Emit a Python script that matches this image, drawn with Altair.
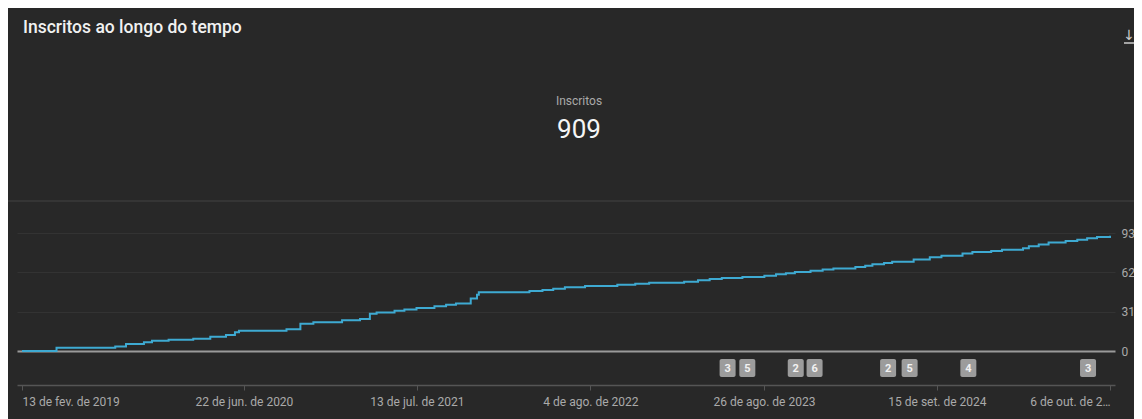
import altair as alt
import pandas as pd

# ---- data ----
dates = ["2019-02-13","2019-05-01","2019-09-09","2019-10-03","2019-11-12","2019-11-30",
         "2020-01-06","2020-03-01","2020-04-08","2020-05-13","2020-06-02","2020-06-11",
         "2020-09-25","2020-10-26","2020-11-24","2021-01-27","2021-03-08","2021-03-30",
         "2021-04-14","2021-05-24","2021-06-15","2021-07-12","2021-08-21","2021-09-16",
         "2021-10-08","2021-11-10","2021-11-24","2021-11-28","2022-03-21","2022-04-19",
         "2022-05-13","2022-06-08","2022-07-23","2022-10-03","2022-11-12","2022-12-13",
         "2023-03-01","2023-04-01","2023-04-27","2023-05-24","2023-07-09","2023-08-27",
         "2023-09-22","2023-10-14","2023-11-03","2023-12-08","2024-01-04","2024-01-28",
         "2024-03-17","2024-04-08","2024-04-24","2024-05-20","2024-06-07","2024-07-25",
         "2024-08-30","2024-09-25","2024-11-11","2024-12-03","2025-01-14","2025-02-07",
         "2025-03-26","2025-04-08","2025-04-30","2025-05-22","2025-06-29","2025-07-25",
         "2025-08-16","2025-09-07","2025-10-06"]
subs = [0,25,36,55,68,81,
        89,97,113,126,147,160,
        171,215,226,242,252,294,
        304,317,328,339,352,365,
        375,414,443,464,472,480,
        491,502,512,522,530,538,
        546,557,567,575,583,593,
        604,612,622,633,643,651,
        662,672,683,693,704,722,
        738,751,769,780,788,798,
        809,825,840,856,867,877,
        888,898,909]

marker_dates = ["2023-06-06","2023-07-20","2023-11-05","2023-12-17",
                "2024-05-29","2024-07-16","2024-11-24","2025-08-18"]
marker_counts = ["3","5","2","6","2","5","4","3"]

y_ticks = [0, 310, 620, 930]
x_ticks = [(2019, 2, 13), (2020, 6, 22), (2021, 7, 13), (2022, 8, 4),
           (2023, 8, 26), (2024, 9, 15), (2025, 10, 6)]
months_pt = ["jan.","fev.","mar.","abr.","mai.","jun.","jul.","ago.","set.","out.","nov.","dez."]

title_text = "Inscritos ao longo do tempo"
metric_label = "Inscritos"
metric_value = "909"

assert len(dates) == len(subs)

df = pd.DataFrame({"date": dates, "subs": subs})
mk = pd.DataFrame({"date": marker_dates, "n": marker_counts})

BG = "#282828"
LABEL = "#aaaaaa"
FONT = "Roboto"

def dt(t):
    return alt.DateTime(year=t[0], month=t[1], date=t[2], utc=True)

arr = "[" + ",".join("'" + m + "'" for m in months_pt) + "]"
full = ("utcdate(datum.value) + ' de ' + " + arr +
        "[utcmonth(datum.value)] + ' de ' + utcyear(datum.value)")
label_expr = ("utcyear(datum.value) >= 2025 ? substring(" + full + ", 0, 14) + '…' : " + full)

first_year = x_ticks[0][0]
last_year = x_ticks[-1][0]
label_align = {
    "condition": [
        {"test": "utcyear(datum.value) == %d" % first_year, "value": "left"},
        {"test": "utcyear(datum.value) == %d" % last_year, "value": "right"},
    ],
    "value": "center",
}

xscale = alt.Scale(type="utc", domain=[dt(x_ticks[0]), dt(x_ticks[-1])])

line = alt.Chart(df).mark_line(
    interpolate="step-after", color="#3eaad2", strokeWidth=2
).encode(
    x=alt.X("date:T", scale=xscale,
            axis=alt.Axis(values=[dt(t) for t in x_ticks], labelExpr=label_expr,
                          labelAlign=label_align, offset=34, grid=False,
                          domainColor="#555555", domainWidth=1.5,
                          tickColor="#555555", tickSize=5,
                          labelColor=LABEL, labelFont=FONT, labelFontSize=12,
                          labelPadding=6, title=None)),
    y=alt.Y("subs:Q", scale=alt.Scale(domain=[0, 930], nice=False, zero=True),
            axis=alt.Axis(orient="right", values=y_ticks, ticks=False, domain=False,
                          labelColor=LABEL, labelFont=FONT, labelFontSize=12,
                          labelPadding=6, labelBaseline="middle",
                          gridColor={"condition": {"test": "datum.value === 0", "value": "#9a9a9a"},
                                     "value": "#333333"},
                          gridWidth={"condition": {"test": "datum.value === 0", "value": 2},
                                     "value": 1},
                          title=None)),
)

boxes = alt.Chart(mk).mark_bar(width=16, color="#9c9c9c", cornerRadius=2).encode(
    x=alt.X("date:T", scale=xscale),
    y=alt.value(126), y2=alt.value(144),
)
box_text = alt.Chart(mk).mark_text(
    color="#f2f2f2", font=FONT, fontSize=11, fontWeight="bold", baseline="middle"
).encode(
    x=alt.X("date:T", scale=xscale),
    y=alt.value(135.5),
    text="n:N",
)

one = alt.Data(values=[{"k": 1}])

title = alt.Chart(one).mark_text(
    text=title_text, color="#f1f1f1", font=FONT, fontSize=17.5, fontWeight=500,
    align="left", baseline="alphabetic"
).encode(x=alt.value(6), y=alt.value(-200))

mlabel = alt.Chart(one).mark_text(
    text=metric_label, color=LABEL, font=FONT, fontSize=12, align="center", baseline="middle"
).encode(x=alt.value(562), y=alt.value(-132))

mvalue = alt.Chart(one).mark_text(
    text=metric_value, color="#f5f5f5", font=FONT, fontSize=26, align="center", baseline="middle"
).encode(x=alt.value(562), y=alt.value(-103))

sep = alt.Chart(one).mark_rule(color="#3a3a3a", strokeWidth=1.5).encode(
    x=alt.value(-9), x2=alt.value(1117), y=alt.value(-32)
)

arrow = alt.Chart(one).mark_text(
    text="↓", color="#cccccc", font="DejaVu Sans", fontSize=14, align="center", baseline="middle"
).encode(x=alt.value(1112), y=alt.value(-197))
arrow_bar = alt.Chart(one).mark_rule(color="#cccccc", strokeWidth=1.5).encode(
    x=alt.value(1107), x2=alt.value(1117), y=alt.value(-190)
)

chart = alt.layer(
    line, boxes, box_text, title, mlabel, mvalue, sep, arrow, arrow_bar
).properties(
    width=1098, height=118,
    padding={"left": 9, "top": 225, "right": 19, "bottom": 68},
    autosize=alt.AutoSizeParams(type="none"),
    background=BG,
).configure_view(stroke="transparent")

chart.save("out.html", embed_options={"renderer": "svg", "actions": False})
